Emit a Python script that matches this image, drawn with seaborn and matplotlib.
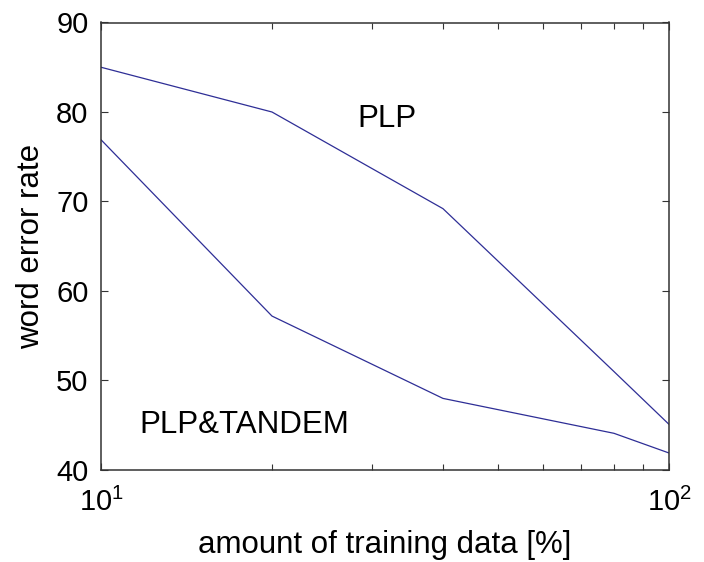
import matplotlib
matplotlib.use("Agg")
import matplotlib.pyplot as plt
import matplotlib.ticker as mticker
import numpy as np
import pandas as pd
import seaborn as sns

# Word error rate vs. amount of training data
train_pct_plp = [10, 20, 40, 80, 100]
wer_plp = [85.0, 80.0, 69.2, 51.0, 45.1]

train_pct_tandem = [10, 20, 40, 80, 100]
wer_tandem = [76.9, 57.2, 48.0, 44.1, 41.9]

series_names = ["PLP", "PLP&TANDEM"]
x_tick_values = [10, 100]
x_tick_labels = [r"$\mathregular{10^{1}}$", r"$\mathregular{10^{2}}$"]
y_tick_values = [40, 50, 60, 70, 80, 90]

df = pd.concat([
    pd.DataFrame({"pct": train_pct_plp, "wer": wer_plp, "system": series_names[0]}),
    pd.DataFrame({"pct": train_pct_tandem, "wer": wer_tandem, "system": series_names[1]}),
], ignore_index=True)

sns.set_style("ticks")
plt.rcParams["font.family"] = ["Liberation Sans", "DejaVu Sans"]
plt.rcParams["mathtext.fontset"] = "custom"
plt.rcParams["mathtext.rm"] = "Liberation Sans"
plt.rcParams["mathtext.it"] = "Liberation Sans"
plt.rcParams["text.color"] = "black"
plt.rcParams["axes.labelcolor"] = "black"

line_color = "#2e2e96"
fig = plt.figure(figsize=(7.04, 5.62), dpi=100)
ax = fig.add_axes([101 / 704, 1 - 470 / 562, (669 - 101) / 704, (470 - 22.5) / 562])

sns.lineplot(data=df, x="pct", y="wer", hue="system",
             palette={n: line_color for n in series_names},
             linewidth=0.9, legend=False, ax=ax, sort=False)

ax.set_xscale("log")
ax.set_xlim(10, 100)
ax.set_ylim(40, 90)
ax.set_xticks(x_tick_values)
ax.set_xticklabels(x_tick_labels)
ax.xaxis.set_minor_locator(mticker.LogLocator(base=10, subs=np.arange(2, 10)))
ax.xaxis.set_minor_formatter(mticker.NullFormatter())
ax.set_yticks(y_tick_values)
ax.set_yticklabels([str(v) for v in y_tick_values])

for side in ["top", "right", "left", "bottom"]:
    ax.spines[side].set_visible(True)
    ax.spines[side].set_color("#333333")
    ax.spines[side].set_linewidth(1.1)

ax.tick_params(axis="both", which="both", direction="in", top=True, right=True,
               color="#333333", width=0.8)
ax.tick_params(axis="both", which="major", length=5, labelsize=21, labelcolor="black")
ax.tick_params(axis="x", which="major", pad=13)
ax.tick_params(axis="y", which="major", pad=9)
ax.tick_params(axis="x", which="minor", length=4)

ax.set_xlabel("amount of training data [%]", fontsize=22.5, labelpad=9)
ax.set_ylabel("word error rate", fontsize=22.5, labelpad=7)

ax.text(28.3, 79.2, series_names[0], fontsize=22.5, ha="left", va="center")
ax.text(11.7, 45, series_names[1], fontsize=22.5, ha="left", va="center")

fig.savefig("out.png", dpi=100)
